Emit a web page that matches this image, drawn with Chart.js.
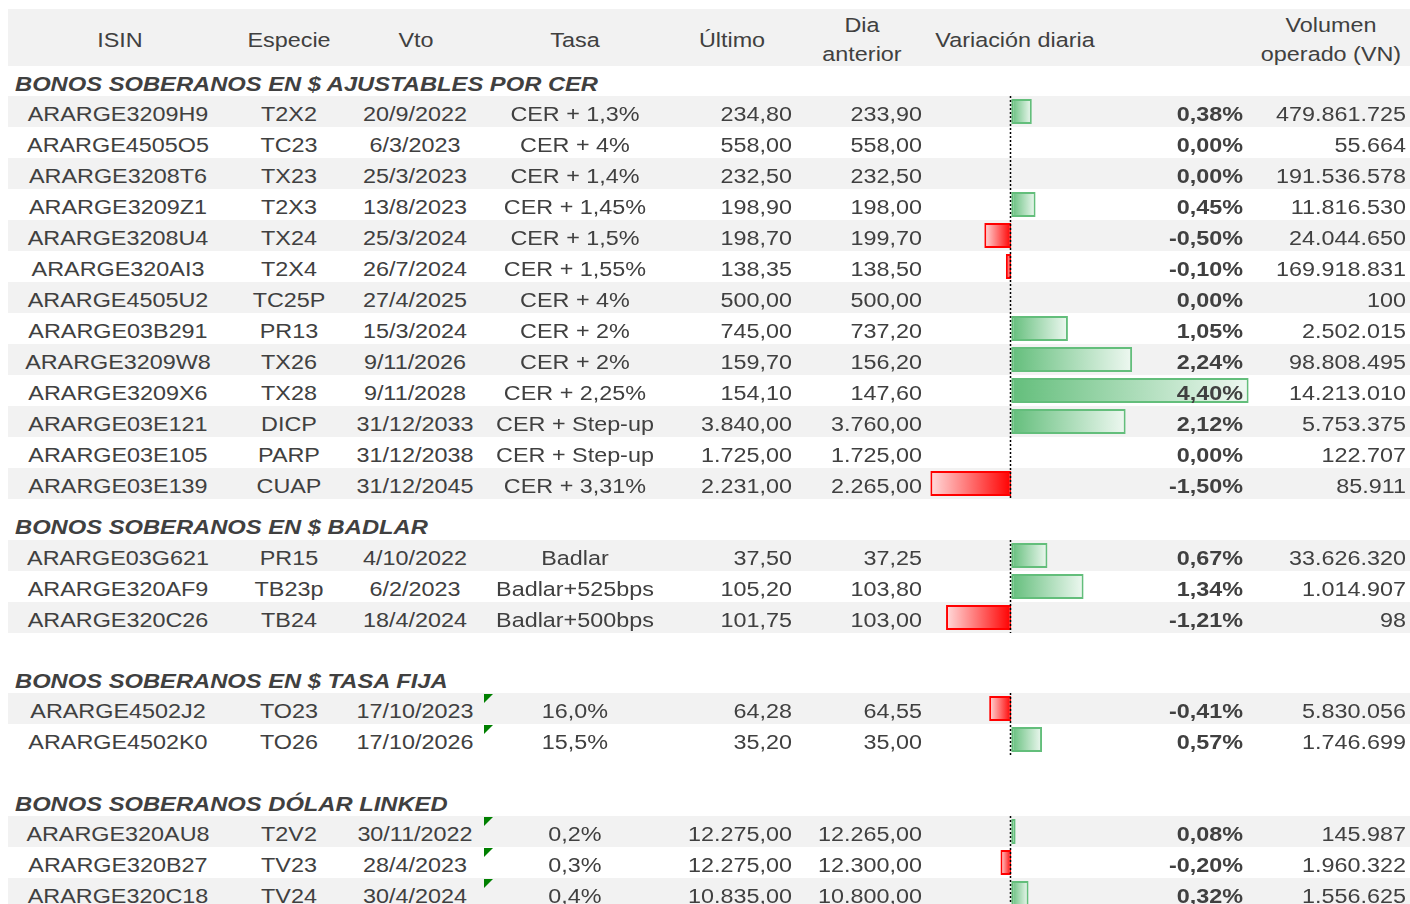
<!DOCTYPE html>
<html>
<head>
<meta charset="utf-8">
<script src="https://cdn.jsdelivr.net/npm/chart.js@4.4.0/dist/chart.umd.min.js"></script>
<style>
  html, body { margin: 0; padding: 0; background: #fff; overflow: hidden; }
  #page { position: relative; width: 1410px; height: 904px; overflow: hidden; }
  .bg { position: absolute; left: 8px; width: 1402px; background: #F2F2F2; }
  .txt { position: absolute; font: 20.5px/20.5px "Liberation Sans", Arial, sans-serif; white-space: nowrap;
         color: #404040; z-index: 3; }
  .bold { font-weight: bold; }
  .title { font-weight: bold; font-style: italic; }
  .bars { position: absolute; left: 925px; width: 329px; z-index: 2; }
  .flag { position: absolute; width: 0; height: 0; border-top: 9px solid #008000; border-right: 9px solid transparent; z-index: 3; }
</style>
</head>
<body>
<div id="page"></div>
<script>
// ---- data ----
const sections = [
  'BONOS SOBERANOS EN $ AJUSTABLES POR CER',
  'BONOS SOBERANOS EN $ BADLAR',
  'BONOS SOBERANOS EN $ TASA FIJA',
  'BONOS SOBERANOS DÓLAR LINKED'
];
const section = [0,0,0,0,0,0,0,0,0,0,0,0,0, 1,1,1, 2,2, 3,3,3];
const isin = [
  'ARARGE3209H9','ARARGE4505O5','ARARGE3208T6','ARARGE3209Z1','ARARGE3208U4','ARARGE320AI3','ARARGE4505U2',
  'ARARGE03B291','ARARGE3209W8','ARARGE3209X6','ARARGE03E121','ARARGE03E105','ARARGE03E139',
  'ARARGE03G621','ARARGE320AF9','ARARGE320C26',
  'ARARGE4502J2','ARARGE4502K0',
  'ARARGE320AU8','ARARGE320B27','ARARGE320C18'
];
const especie = ['T2X2','TC23','TX23','T2X3','TX24','T2X4','TC25P','PR13','TX26','TX28','DICP','PARP','CUAP',
  'PR15','TB23p','TB24','TO23','TO26','T2V2','TV23','TV24'];
const vto = ['20/9/2022','6/3/2023','25/3/2023','13/8/2023','25/3/2024','26/7/2024','27/4/2025','15/3/2024',
  '9/11/2026','9/11/2028','31/12/2033','31/12/2038','31/12/2045',
  '4/10/2022','6/2/2023','18/4/2024','17/10/2023','17/10/2026','30/11/2022','28/4/2023','30/4/2024'];
const tasa = ['CER + 1,3%','CER + 4%','CER + 1,4%','CER + 1,45%','CER + 1,5%','CER + 1,55%','CER + 4%','CER + 2%',
  'CER + 2%','CER + 2,25%','CER + Step-up','CER + Step-up','CER + 3,31%',
  'Badlar','Badlar+525bps','Badlar+500bps','16,0%','15,5%','0,2%','0,3%','0,4%'];
const ultimo = [234.80, 558.00, 232.50, 198.90, 198.70, 138.35, 500.00, 745.00, 159.70, 154.10, 3840.00, 1725.00, 2231.00,
  37.50, 105.20, 101.75, 64.28, 35.20, 12275.00, 12275.00, 10835.00];
const anterior = [233.90, 558.00, 232.50, 198.00, 199.70, 138.50, 500.00, 737.20, 156.20, 147.60, 3760.00, 1725.00, 2265.00,
  37.25, 103.80, 103.00, 64.55, 35.00, 12265.00, 12300.00, 10800.00];
const variacion = [0.38, 0.00, 0.00, 0.45, -0.50, -0.10, 0.00, 1.05, 2.24, 4.40, 2.12, 0.00, -1.50,
  0.67, 1.34, -1.21, -0.41, 0.57, 0.08, -0.20, 0.32];
const volumen = [479861725, 55664, 191536578, 11816530, 24044650, 169918831, 100, 2502015, 98808495, 14213010, 5753375, 122707, 85911,
  33626320, 1014907, 98, 5830056, 1746699, 145987, 1960322, 1556625];
const flagged = [false,false,false,false,false,false,false,false,false,false,false,false,false,
  false,false,false,true,true,true,true,true];

// ---- layout ----
const ROW = 31;
const sectionTop = [96, 540, 693, 816];
const titleBase = [91.5, 534.5, 688.5, 811.5];
const SX = 1.14;

const page = document.getElementById('page');

function fmtThousands(intStr) {
  return intStr.replace(/\B(?=(\d{3})+(?!\d))/g, '.');
}
function fmtNum(v) {
  const [i, d] = v.toFixed(2).split('.');
  return fmtThousands(i) + ',' + d;
}
function fmtPct(v) {
  return v.toFixed(2).replace('.', ',') + '%';
}

function addText(txt, x, base, align, cls, sx) {
  const d = document.createElement('div');
  d.className = 'txt' + (cls ? ' ' + cls : '');
  d.textContent = txt;
  const W = 800;
  d.style.width = W + 'px';
  d.style.top = (base - 17.4) + 'px';
  d.style.textAlign = align;
  if (align === 'left') { d.style.left = x + 'px'; d.style.transformOrigin = '0 50%'; }
  else if (align === 'right') { d.style.left = (x - W) + 'px'; d.style.transformOrigin = '100% 50%'; }
  else { d.style.left = (x - W / 2) + 'px'; d.style.transformOrigin = '50% 50%'; }
  d.style.transform = 'scaleX(' + (sx || SX) + ')';
  page.appendChild(d);
}
function addBg(top, h) {
  const d = document.createElement('div');
  d.className = 'bg';
  d.style.top = top + 'px';
  d.style.height = h + 'px';
  page.appendChild(d);
}

// header
addBg(9, 57);
addText('ISIN', 119.5, 47, 'center');
addText('Especie', 289, 47, 'center');
addText('Vto', 416, 47, 'center');
addText('Tasa', 574.5, 47, 'center');
addText('Último', 732, 47, 'center');
addText('Dia', 862, 32, 'center');
addText('anterior', 862, 61, 'center');
addText('Variación diaria', 1014.5, 47, 'center');
addText('Volumen', 1331, 32, 'center');
addText('operado (VN)', 1331, 61, 'center');

// zero line for data bars
const zeroLine = {
  id: 'zeroLine',
  afterDatasetsDraw(chart) {
    const { ctx, chartArea, scales } = chart;
    const x = Math.round(scales.x.getPixelForValue(0)) - 0.5;
    ctx.save();
    ctx.strokeStyle = '#000';
    ctx.lineWidth = 1.5;
    ctx.setLineDash([2, 2]);
    ctx.beginPath();
    ctx.moveTo(x, chartArea.top);
    ctx.lineTo(x, chartArea.bottom);
    ctx.stroke();
    ctx.restore();
  }
};

function barFill(c) {
  const chart = c.chart;
  const v = c.raw;
  if (!chart.chartArea || v == null) return 'transparent';
  const x0 = chart.scales.x.getPixelForValue(0);
  const x1 = chart.scales.x.getPixelForValue(v);
  if (Math.abs(x1 - x0) < 0.5) return 'transparent';
  const g = chart.ctx.createLinearGradient(x0, 0, x1, 0);
  if (v >= 0) { g.addColorStop(0, '#63BE7B'); g.addColorStop(1, '#EEF8F1'); }
  else { g.addColorStop(0, '#FF0000'); g.addColorStop(1, '#FFDCDC'); }
  return g;
}

sections.forEach((name, s) => {
  addText(name, 15, titleBase[s], 'left', 'title', 1.158);
  const idx = section.map((v, i) => v === s ? i : -1).filter(i => i >= 0);
  idx.forEach((i, r) => {
    const top = sectionTop[s] + r * ROW;
    if (r % 2 === 0) addBg(top, ROW);
    const base = top + ROW - 6;
    addText(isin[i], 118, base, 'center');
    addText(especie[i], 289, base, 'center');
    addText(vto[i], 415, base, 'center');
    addText(tasa[i], 575, base, 'center');
    addText(fmtNum(ultimo[i]), 792, base, 'right');
    addText(fmtNum(anterior[i]), 922, base, 'right');
    addText(fmtPct(variacion[i]), 1243, base, 'right', 'bold');
    addText(fmtThousands(String(volumen[i])), 1406, base, 'right');
    if (flagged[i]) {
      const f = document.createElement('div');
      f.className = 'flag';
      f.style.left = '484px';
      f.style.top = (top + 1) + 'px';
      page.appendChild(f);
    }
  });

  const box = document.createElement('div');
  box.className = 'bars';
  box.style.top = sectionTop[s] + 'px';
  box.style.height = (idx.length * ROW) + 'px';
  const cv = document.createElement('canvas');
  box.appendChild(cv);
  page.appendChild(box);

  new Chart(cv, {
    type: 'bar',
    data: {
      labels: idx.map(i => isin[i]),
      datasets: [{
        data: idx.map(i => variacion[i]),
        backgroundColor: barFill,
        borderColor: c => (c.raw < 0 ? '#FF0000' : '#63BE7B'),
        borderWidth: 2,
        borderSkipped: false,
        barPercentage: 1,
        categoryPercentage: 0.8
      }]
    },
    options: {
      indexAxis: 'y',
      responsive: true,
      maintainAspectRatio: false,
      animation: false,
      layout: { padding: 0 },
      plugins: { legend: { display: false }, tooltip: { enabled: false } },
      scales: {
        x: { min: -1.6, max: 4.5, display: false },
        y: { display: false }
      }
    },
    plugins: [zeroLine]
  });
});
</script>
</body>
</html>
